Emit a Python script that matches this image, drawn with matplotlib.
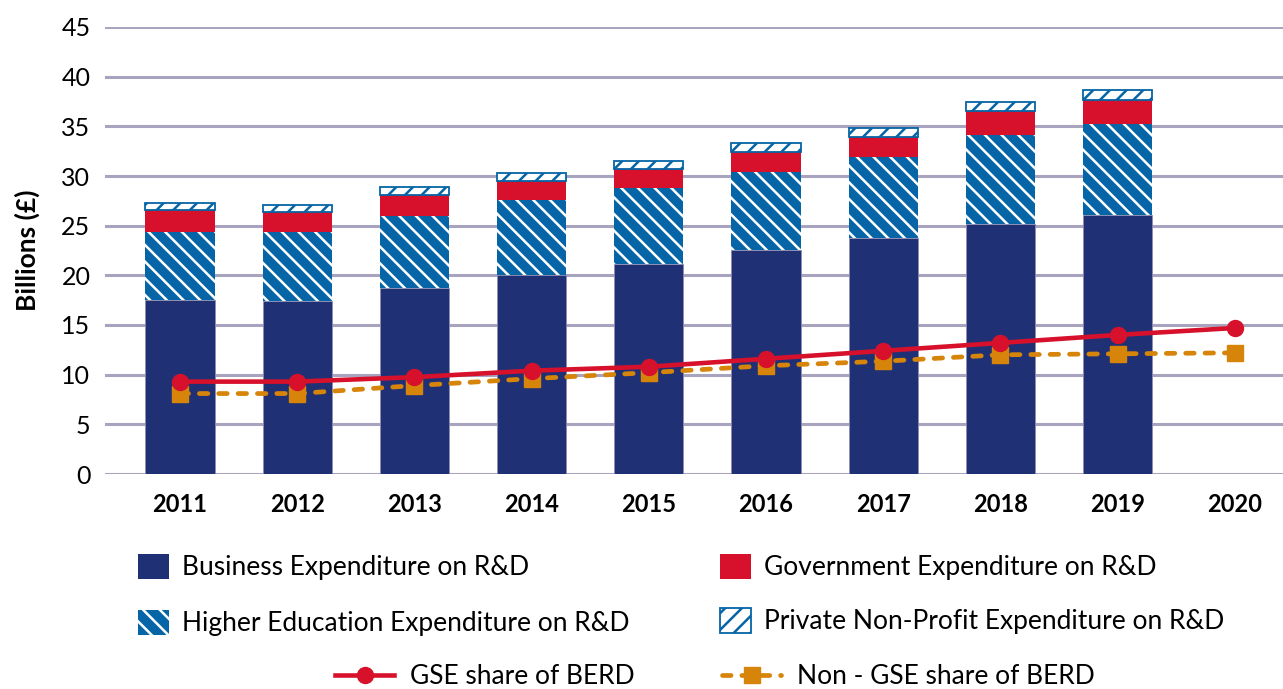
import numpy as np
import matplotlib
matplotlib.use("Agg")
import matplotlib.pyplot as plt
from matplotlib.patches import Patch
from matplotlib.lines import Line2D

# data (billions of pounds)
years = ["2011", "2012", "2013", "2014", "2015", "2016", "2017", "2018", "2019", "2020"]
business = [17.5, 17.4, 18.7, 20.0, 21.1, 22.6, 23.8, 25.2, 26.1]
higher_ed = [6.9, 7.0, 7.3, 7.55, 7.7, 7.8, 8.1, 8.9, 9.1]
government = [2.2, 1.95, 2.1, 1.95, 1.9, 2.0, 2.0, 2.4, 2.5]
private_np = [0.65, 0.75, 0.8, 0.8, 0.8, 0.9, 0.9, 0.9, 1.0]
gse_share = [9.3, 9.3, 9.75, 10.4, 10.8, 11.6, 12.4, 13.2, 14.0, 14.7]
non_gse_share = [8.1, 8.1, 8.9, 9.6, 10.2, 10.9, 11.35, 12.0, 12.1, 12.2]

navy = "#1F3174"
he_blue = "#0565A6"
red = "#D7112B"
orange = "#D7850A"
grid_col = "#A8A3BF"
dash = (0, (1.8, 2.3))

plt.rcParams["font.family"] = ["Lato", "DejaVu Sans"]
plt.rcParams["hatch.linewidth"] = 1.8

W, H = 1283, 689
fig = plt.figure(figsize=(W / 100, H / 100), dpi=100)
ax = fig.add_axes([105 / W, 215 / H, (W - 105) / W, 447 / H])

x = np.arange(len(years))
xb = x[:len(business)]
bw = 0.59

b1 = np.array(business)
b2 = b1 + np.array(higher_ed)
b3 = b2 + np.array(government)

ax.bar(xb, business, bw, color=navy, edgecolor="#8C8DB3", linewidth=0.6, zorder=2)
ax.bar(xb, higher_ed, bw, bottom=b1, color=he_blue, edgecolor="white", linewidth=0,
       hatch="\\\\", zorder=2)
ax.bar(xb, government, bw, bottom=b2, color=red, linewidth=0, zorder=2)
ax.bar(xb, private_np, bw, bottom=b3, color="white", edgecolor=he_blue, linewidth=1.3,
       hatch="//", zorder=2)

ax.plot(x, non_gse_share, color=orange, lw=3.4, ls=dash, dash_capstyle="round",
        marker="s", markersize=11.5, zorder=3)
ax.plot(x, gse_share, color=red, lw=3.3, marker="o", markersize=11.5, zorder=4)

ax.set_xlim(-(180 - 105) / 117.2, (W - 180) / 117.2)
ax.set_ylim(0, 45)
ax.set_yticks(range(0, 50, 5))
ax.set_xticks(x)
ax.set_xticklabels(years, fontweight="bold", fontsize=17)
ax.tick_params(axis="y", length=0, pad=10.5, labelsize=18)
ax.tick_params(axis="x", length=0, pad=14)
ax.yaxis.grid(True, color=grid_col, lw=2.2)
ax.set_axisbelow(True)
for s in ax.spines.values():
    s.set_visible(False)

ax.set_ylabel("Billions (£)", fontweight="bold", fontsize=19)
ax.yaxis.set_label_coords((40 - 105) / (W - 105), 0.5)


def add_entry(handle, label, x_px, y_px, hl, hh, pad):
    fig.legend([handle], [label], loc="center left",
               bbox_to_anchor=(x_px / W, 1 - y_px / H), frameon=False,
               borderpad=0, borderaxespad=0, handlelength=hl, handleheight=hh,
               handletextpad=pad, fontsize=19)


add_entry(Patch(facecolor=navy), "Business Expenditure on R&D", 138, 567, 1.17, 1.1, 0.5)
add_entry(Patch(facecolor=red), "Government Expenditure on R&D", 720, 567, 1.17, 1.1, 0.5)
add_entry(Patch(facecolor=he_blue, edgecolor="white", linewidth=0, hatch="\\\\"),
          "Higher Education Expenditure on R&D", 138, 623, 1.17, 1.1, 0.5)
add_entry(Patch(facecolor="white", edgecolor=he_blue, linewidth=1.3, hatch="//"),
          "Private Non-Profit Expenditure on R&D", 720, 621, 1.17, 1.1, 0.5)
add_entry(Line2D([], [], color=red, lw=3.3, marker="o", markersize=11.5),
          "GSE share of BERD", 335, 677, 2.25, 0.7, 0.58)
add_entry(Line2D([], [], color=orange, lw=3.4, ls=dash, dash_capstyle="round",
                 marker="s", markersize=11.5),
          "Non - GSE share of BERD", 722, 677, 2.25, 0.7, 0.58)

fig.savefig("out.png", dpi=100)
